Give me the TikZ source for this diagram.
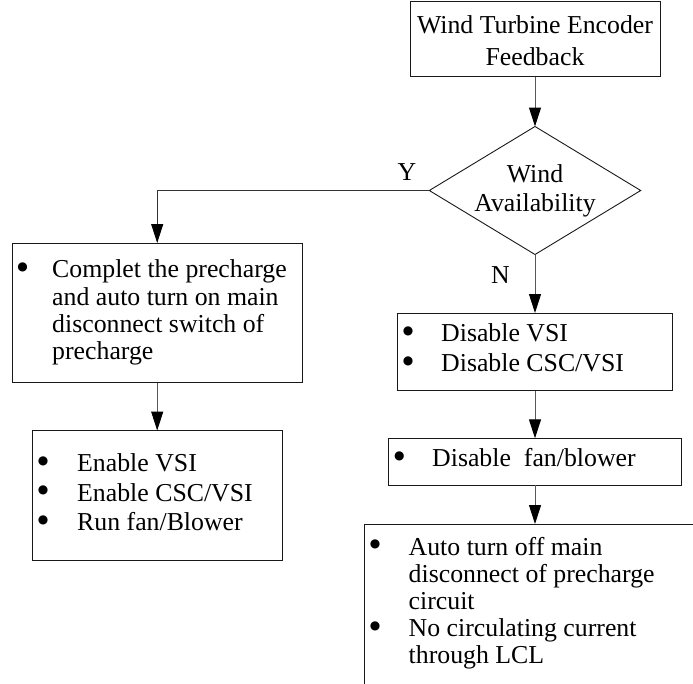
\documentclass[tikz,border=0pt]{standalone}
\usepackage{fontspec}
\setmainfont{Liberation Serif}
\newfontfamily\symfont{DejaVu Sans}
\usetikzlibrary{shapes.geometric,arrows.meta}

\tikzset{
  box/.style={draw=black!90, line width=0.9pt, rectangle, inner sep=0pt, outer sep=0pt},
  decision/.style={draw=black!90, line width=0.9pt, diamond, inner sep=0pt, outer sep=0pt},
  flow/.style={draw=black!65, line width=1pt, -{Triangle[length=19pt,width=12pt,black]}},
  txt/.style={inner sep=0pt, anchor=base west, font=\fontsize{25.8pt}{27.2pt}\selectfont},
  ctxt/.style={inner sep=0pt, anchor=base, font=\fontsize{25.8pt}{27.2pt}\selectfont},
  % list bullet, given at the baseline of its line
  dot/.style={inner sep=0pt, anchor=base, yshift=7.7pt, font=\symfont\fontsize{12pt}{12pt}\selectfont},
}

\begin{document}
\begin{tikzpicture}[x=1pt, y=-1pt]
\useasboundingbox (0,0) rectangle (693,683);
\fill[white] (0,0) rectangle (693,683);

% start: encoder feedback
\node[box, minimum width=250pt, minimum height=75pt] (enc) at (535,39) {};
\node[ctxt] (enc1) at (535,33) {Wind Turbine Encoder};
\node[ctxt] (enc2) at (535,65) {Feedback};

% decision
\node[decision, minimum width=211.4pt, minimum height=128pt] (wind) at (535,190.5) {};
\node[ctxt] (wind1) at (535,182) {Wind};
\node[ctxt] (wind2) at (535,211) {Availability};

% Y branch
\node[box, minimum width=290.4pt, minimum height=139.5pt] (pre) at (157.2,312.75) {};
\node[dot] (pre0) at (22.5,277.7) {●};
\node[txt] (pre1) at (52,277.7) {Complet the precharge};
\node[txt] (pre2) at (52,305) {and auto turn on main};
\node[txt] (pre3) at (52,332.3) {disconnect switch of};
\node[txt] (pre4) at (52,359.6) {precharge};

\node[box, minimum width=250pt, minimum height=129.5pt] (en) at (157.2,495.25) {};
\node[dot] (en0a) at (43,471.7) {●};
\node[dot] (en0b) at (43,501.2) {●};
\node[dot] (en0c) at (43,530.7) {●};
\node[txt] (en1) at (77,471.7) {Enable VSI};
\node[txt] (en2) at (77,501.2) {Enable CSC/VSI};
\node[txt] (en3) at (77,530.7) {Run fan/Blower};

% N branch
\node[box, minimum width=275pt, minimum height=77.5pt] (dis) at (535,351.75) {};
\node[dot] (dis0a) at (408,341.7) {●};
\node[dot] (dis0b) at (408,371.7) {●};
\node[txt] (dis1) at (441,341.7) {Disable VSI};
\node[txt] (dis2) at (441,371.7) {Disable CSC/VSI};

\node[box, minimum width=293pt, minimum height=46.7pt] (fan) at (535,461.65) {};
\node[dot] (fan0) at (399.3,466.7) {●};
\node[txt] (fan1) at (432,466.7) {Disable~\ fan/blower};

\begin{scope}
  \clip (0,0) rectangle (693,683);
  \node[box, minimum width=341.4pt, minimum height=196pt] (off) at (535,622) {};
\end{scope}
\node[dot] (off0a) at (375,555) {●};
\node[dot] (off0b) at (375,636.7) {●};
\node[txt] (off1) at (408.5,555) {Auto turn off main};
\node[txt] (off2) at (408.5,582.2) {disconnect of precharge};
\node[txt] (off3) at (408.5,609.4) {circuit};
\node[txt] (off4) at (408.5,636.7) {No circulating current};
\node[txt] (off5) at (408.5,663.6) {through LCL};

% connectors
\draw[flow] (enc.south) -- (wind.north);
\draw[flow, draw=black!80, line width=0.9pt] (wind.west) -| (pre.north);
\draw[flow] (pre.south) -- (en.north);
\draw[flow] (wind.south) -- (dis.north);
\draw[flow] (dis.south) -- (fan.north);
\draw[flow] (fan.south) -- (off.north);

% branch labels
\node[ctxt] (ylab) at (407,180) {Y};
\node[ctxt] (nlab) at (500.5,283) {N};
\end{tikzpicture}
\end{document}
